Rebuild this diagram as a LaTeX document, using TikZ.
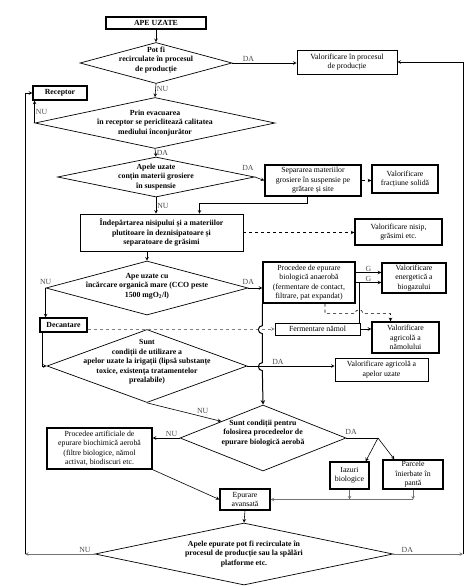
\documentclass[tikz,border=0pt]{standalone}
\usepackage{fontspec}
\setmainfont{Liberation Serif}
\usetikzlibrary{positioning,arrows,shapes,calc}

\newcommand{\flowfont}{\fontsize{7.8}{9.4}\selectfont}

\begin{document}
\begin{tikzpicture}[x=1pt,y=-1pt,
  box/.style={rectangle,draw,line width=0.7pt,inner sep=1pt,align=center,font=\flowfont},
  boxb/.style={box,line width=1.3pt},
  decision/.style={diamond,draw,line width=0.7pt,inner sep=0pt},
  dtext/.style={align=center,font=\flowfont\bfseries},
  flow/.style={->,>=stealth,line width=0.6pt},
  side/.style={flow,dashed,gray},
  lbl/.style={font=\flowfont,text=black!70,inner sep=1pt},
]
\useasboundingbox (0,0) rectangle (474,586);

% ==== TOP: recirculation and receptor ====
\node[boxb,minimum width=100pt,minimum height=12pt,font=\flowfont\bfseries] (ape) at (156,23) {APE UZATE};
\node[decision,minimum width=152pt,minimum height=41pt] (d1) at (156,63) {};
\node[dtext] (d1t) at ($(d1)+(0,-3)$) {Pot fi\\recirculate în procesul\\de producție};
\node[box,minimum width=100pt,minimum height=24pt] (v1) at (347,62) {Valorificare în procesul\\de producție};

\node[boxb,minimum width=54pt,minimum height=14pt,font=\flowfont\bfseries] (rec) at (60,93) {Receptor};
\node[decision,minimum width=240pt,minimum height=51pt] (d2) at (155,123) {};
\node[dtext] (d2t) at (d2) {Prin evacuarea\\în receptor se periclitează calitatea\\mediului înconjurător};

% ==== MECHANICAL STEP ====
\node[decision,minimum width=197pt,minimum height=40pt] (d3) at (156,177) {};
\node[dtext] (d3t) at (d3) {Apele uzate\\conțin materii grosiere\\în suspensie};
\node[boxb,minimum width=96pt,minimum height=31pt] (sep) at (313,180.5) {Separarea materiilor\\grosiere în suspensie pe\\grătare și site};
\node[boxb,minimum width=66pt,minimum height=28pt] (vsol) at (405,179) {Valorificare\\fracțiune solidă};

\node[box,minimum width=163pt,minimum height=37pt,font=\flowfont\bfseries] (nisip) at (161.5,232.5) {Îndepărtarea nisipului și a materiilor\\plutitoare în deznisipatoare și\\separatoare de grăsimi};
\node[boxb,minimum width=87pt,minimum height=26pt] (vnis) at (398.5,232) {Valorificare nisip,\\grăsimi etc.};

% ==== ANAEROBIC BRANCH ====
\node[decision,minimum width=202pt,minimum height=54pt] (d4) at (147,288) {};
\node[dtext] (d4t) at ($(d4)+(0,-2)$) {Ape uzate cu\\încărcare organică mare (CCO peste\\1500 mgO\textsubscript{2}/l)};
\node[boxb,minimum width=92pt,minimum height=41pt] (anaer) at (309,282.5) {Procedee de epurare\\biologică anaerobă\\(fermentare de contact,\\filtrare, pat expandat)};
\node[boxb,minimum width=64pt,minimum height=30pt] (vbio) at (414,278) {Valorificare\\energetică a\\biogazului};
\node[boxb,minimum width=47pt,minimum height=14pt,font=\flowfont\bfseries] (dec) at (63.5,325) {Decantare};
\node[box,minimum width=85pt,minimum height=12pt] (ferm) at (317.5,329) {Fermentare nămol};
\node[boxb,minimum width=67pt,minimum height=31pt] (vnam) at (405.5,337.5) {Valorificare\\agricolă a\\nămolului};

% ==== IRRIGATION ====
\node[decision,minimum width=200pt,minimum height=73pt] (d5) at (147,366) {};
\node[dtext] (d5t) at ($(d5)+(0,-4)$) {Sunt\\condiții de utilizare a\\apelor uzate la irigații (lipsă substanțe\\toxice, existența tratamentelor\\prealabile)};
\node[box,minimum width=93pt,minimum height=23pt] (virig) at (381.5,369.5) {Valorificare agricolă a\\apelor uzate};

% ==== AEROBIC BRANCH ====
\node[decision,minimum width=166pt,minimum height=66pt] (d6) at (263,438) {};
\node[dtext] (d6t) at ($(d6)+(0,-5)$) {Sunt condiții pentru\\folosirea procedeelor de\\epurare biologică aerobă};
\node[boxb,minimum width=105pt,minimum height=41pt] (aer) at (99.5,448.5) {Procedee artificiale de\\epurare biochimică aerobă\\(filtre biologice, nămol\\activat, biodiscuri etc.};
\node[boxb,minimum width=39pt,minimum height=27pt] (iaz) at (349.5,475.5) {Iazuri\\biologice};
\node[boxb,minimum width=60pt,minimum height=29pt] (parc) at (413,474.5) {Parcele\\înierbate în\\pantă};
\node[boxb,minimum width=50pt,minimum height=21pt] (avans) at (245,499.5) {Epurare\\avansată};
\coordinate (split) at (378,438);

% ==== FINAL DECISION ====
\node[decision,minimum width=298pt,minimum height=62pt] (d7) at (244,554) {};
\node[dtext] (d7t) at (d7) {Apele epurate pot fi recirculate în\\procesul de producție sau la spălări\\platforme etc.};
\coordinate (lf) at (25,554);
\coordinate (rt) at (463,554);

% connectors
\draw[flow] (ape.south) -- (d1.north);
\draw[flow] (d1.east) -- node[lbl,above,pos=0.25]{DA} (d1.east -| v1.west);
\draw[flow] (d1.south) -- node[lbl,right,pos=0.4]{NU} (d2.north);
\draw[flow] (d2.west) -- node[lbl,right,pos=0.5]{NU} (d2.west |- rec.south);
\draw[flow] (d2.south) -- node[lbl,right]{DA} (d3.north);
\draw[flow] (d3.east) -- node[lbl,above left,pos=0,yshift=5pt]{DA} (sep.west);
\draw[flow,dashed] (sep.east) -- (sep.east -| vsol.west);
\draw[flow] ([xshift=-6pt]sep.south) -- ++(0,7) -| ([xshift=38pt]nisip.north);
\draw[flow] (d3.south) -- node[lbl,right]{NU} (d3.south |- nisip.north);
\draw[flow,dashed] (nisip.east) -- (nisip.east -| vnis.west);
\draw[flow] (nisip.south -| d4.north) -- (d4.north);

\draw[flow] (d4.east) -- node[lbl,above,pos=0,yshift=2pt]{DA} (d4.east -| anaer.west);
\draw[flow] (d4.west) -- node[lbl,above,pos=0,yshift=2pt]{NU} (d4.west |- dec.north);
\draw[flow] ([yshift=10pt]anaer.east) -- node[lbl,above]{G} ([yshift=10pt]anaer.east -| vbio.west);
\draw[flow] (anaer.east) -- node[lbl,above]{G} (anaer.east -| vbio.west);
\draw[line width=0.6pt] ([xshift=4pt]anaer.east) -- ([xshift=4pt]anaer.east |- ferm.north);
\draw[flow,dashed] ([xshift=16pt]anaer.south) -- ++(0,10) -- ++(30,0) arc[start angle=180,end angle=360,radius=4] -| ([xshift=-15pt]vnam.north);
\draw[flow] (ferm.east) -- (ferm.east -| vnam.west);
\draw[side] (dec.east |- ferm.west) -- (ferm.west);
\draw[flow,line width=1pt] (anaer.south west) -- ++(0,22) arc[start angle=270,end angle=90,radius=4] -- ++(0,29) arc[start angle=270,end angle=90,radius=4] -- (d6.north);

\draw[flow] ([xshift=3pt]dec.south west) |- (d5.west);
\draw[flow] (d5.east) -- node[lbl,above,pos=0.35]{DA} (d5.east -| virig.west);
\draw[flow] (d5.south) -- node[lbl,above,pos=0.75,yshift=2pt]{NU} (d6.north west);
\draw[flow] (d6.west) -- node[lbl,above,pos=0.3]{NU} (d6.west -| aer.east);
\draw[line width=0.6pt] (d6.east) -- node[lbl,above,pos=0.15,yshift=2pt]{DA} (split);
\draw[flow] (split) -- ([xshift=-4pt]iaz.north east);
\draw[flow] (split) -- ([xshift=12pt]parc.north west);
\draw[flow] (aer.south east) -- (avans.west);
\draw[flow,black!55] (iaz.south) -- (iaz.south |- avans.east);
\draw[flow,black!55] (parc.south) -- (parc.south |- avans.east);
\draw[flow,black!55] (parc.south |- avans.east) -- (avans.east);
\draw[flow] (avans.south) -- (d7.north);

\draw[flow,black!55] (d7.west) -- node[lbl,above,pos=0.14]{NU} (lf);
\draw[flow] (lf) |- (rec.west);
\draw[flow,black!55] (d7.east) -- node[lbl,above,pos=0.2]{DA} (rt);
\draw[flow] (rt) |- (v1.east);

\end{tikzpicture}
\end{document}
